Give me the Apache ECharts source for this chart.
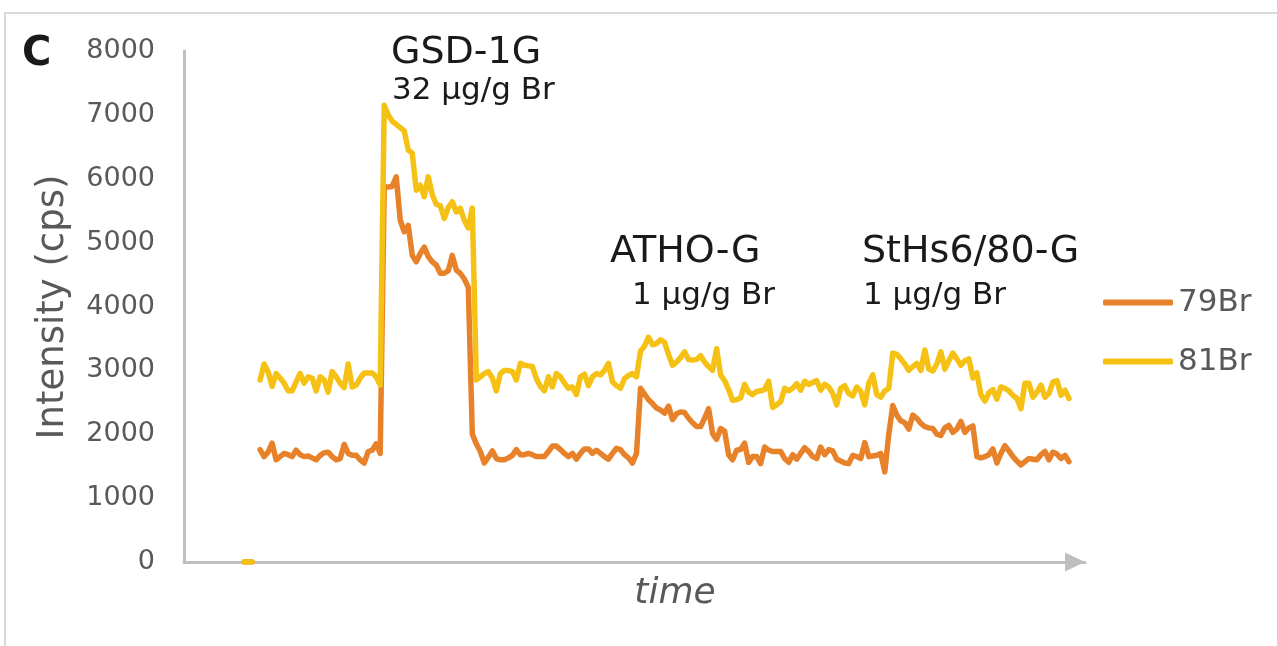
<!DOCTYPE html>
<html>
<head>
<meta charset="utf-8">
<script src="https://cdn.jsdelivr.net/npm/echarts@6/dist/echarts.min.js"></script>
<style>html,body{margin:0;padding:0;background:#fff;}#c{width:1277px;height:646px;}</style>
</head>
<body>
<div id="c"></div>
<script>
// time index categories (0..225)
const categories = [];
for (let i = 0; i <= 225; i++) categories.push(String(i));

const yTicks = [0, 1000, 2000, 3000, 4000, 5000, 6000, 7000, 8000];

const br79 = [
  null,null,null,null,null,null,null,null,null,null,null,null,null,null,null,
  0,0,0,null,
  1760,1650,1720,1860,1600,1650,1700,1680,1650,1750,
  1680,1650,1660,1630,1600,1670,1710,1720,1650,1600,
  1620,1840,1700,1670,1670,1600,1550,1730,1750,1850,
  1700,5870,5870,5880,6030,5350,5170,5270,4800,4700,
  4830,4930,4780,4700,4650,4520,4520,4560,4800,4570,
  4520,4430,4300,2000,1850,1730,1550,1640,1740,1620,
  1600,1600,1630,1670,1760,1680,1680,1700,1680,1650,
  1650,1650,1730,1815,1815,1760,1700,1650,1700,1610,
  1700,1770,1770,1700,1750,1700,1650,1610,1700,1780,
  1760,1680,1630,1550,1700,2720,2630,2540,2480,2410,
  2380,2330,2440,2230,2320,2350,2340,2250,2180,2120,
  2120,2250,2400,2010,1920,2090,2050,1680,1600,1750,
  1760,1860,1560,1650,1650,1540,1800,1750,1730,1730,
  1730,1620,1560,1680,1610,1700,1790,1730,1650,1620,
  1800,1680,1760,1740,1610,1580,1550,1540,1670,1650,
  1620,1870,1650,1660,1670,1700,1410,2000,2450,2300,
  2210,2180,2080,2300,2250,2170,2120,2100,2090,2000,
  1980,2100,2140,2030,2080,2200,2030,2100,2130,1650,
  1630,1650,1680,1770,1550,1700,1820,1740,1650,1580,
  1520,1570,1620,1610,1600,1680,1730,1600,1720,1690,
  1620,1670,1570,
  null,null,null,null
];

const br81 = [
  null,null,null,null,null,null,null,null,null,null,null,null,null,null,null,
  0,0,0,null,
  2850,3100,2980,2750,2950,2880,2800,2680,2680,2820,
  2950,2800,2900,2880,2680,2900,2850,2660,2980,2900,
  2800,2730,3100,2740,2770,2880,2960,2960,2960,2900,
  2770,7150,7000,6900,6850,6800,6750,6450,6400,5820,
  5900,5720,6030,5750,5600,5580,5380,5550,5640,5480,
  5540,5350,5230,5540,2850,2900,2950,2980,2880,2680,
  2950,3000,3000,2980,2850,3110,3080,3070,3060,2870,
  2750,2680,2900,2740,2950,2900,2800,2720,2740,2620,
  2900,2940,2760,2900,2950,2930,3000,3110,2820,2760,
  2720,2870,2920,2950,2900,3300,3380,3520,3400,3420,
  3480,3440,3250,3080,3130,3200,3290,3170,3160,3170,
  3230,3130,3060,3000,3340,2930,2840,2700,2530,2540,
  2570,2780,2660,2620,2670,2680,2700,2830,2420,2460,
  2510,2720,2680,2720,2790,2690,2830,2780,2810,2840,
  2690,2780,2740,2640,2460,2720,2760,2640,2600,2740,
  2670,2460,2800,2930,2620,2580,2680,2720,3270,3250,
  3180,3100,3000,3060,3110,3000,3320,3020,2990,3100,
  3290,3020,3150,3270,3180,3080,3150,3180,2880,2960,
  2620,2520,2650,2700,2550,2740,2720,2680,2610,2560,
  2400,2800,2800,2580,2660,2770,2580,2640,2820,2840,
  2610,2690,2560,
  null,null,null,null
];

const seriesNames = ['79Br', '81Br'];
const annotations = [
  {text: 'GSD-1G', x: 391, y: 53, size: 38},
  {text: '32 µg/g Br', x: 392, y: 91, size: 31},
  {text: 'ATHO-G', x: 610, y: 252, size: 38},
  {text: '1 µg/g Br', x: 632, y: 296, size: 31},
  {text: 'StHs6/80-G', x: 862, y: 252, size: 38},
  {text: '1 µg/g Br', x: 863, y: 296, size: 31}
];

const FONT = '"DejaVu Sans", Verdana, sans-serif';
const chart = echarts.init(document.getElementById('c'), null, {renderer: 'canvas'});

const graphics = [
  {type: 'rect', shape: {x: 5, y: 13, width: 1320, height: 700}, style: {fill: 'none', stroke: '#D9D9D9', lineWidth: 2}, silent: true},
  {type: 'text', x: 22, y: 55, style: {text: 'C', font: 'bold 40px ' + FONT, fill: '#1a1a1a', align: 'left', verticalAlign: 'middle'}},
  {type: 'text', x: 675, y: 594, style: {text: 'time', font: 'italic 36px ' + FONT, fill: '#595959', align: 'center', verticalAlign: 'middle'}},
  {type: 'text', x: 53, y: 307, rotation: Math.PI / 2, style: {text: 'Intensity (cps)', font: '37px ' + FONT, fill: '#595959', align: 'center', verticalAlign: 'middle'}}
];
annotations.forEach(a => graphics.push({
  type: 'text', x: a.x, y: a.y,
  style: {text: a.text, font: a.size + 'px ' + FONT, fill: '#1a1a1a', align: 'left', verticalAlign: 'middle'}
}));

chart.setOption({
  animation: false,
  backgroundColor: '#ffffff',
  textStyle: {fontFamily: FONT},
  grid: {left: 184, right: 192, top: 51, bottom: 84, containLabel: false},
  legend: {
    orient: 'vertical', left: 1103, top: 287, padding: 0,
    itemWidth: 70, itemHeight: 6, itemGap: 28, icon: 'roundRect',
    textStyle: {fontSize: 31, color: '#595959', fontFamily: FONT},
    data: seriesNames
  },
  xAxis: {
    type: 'category', data: categories, boundaryGap: false,
    axisLine: {show: true, symbol: ['none', 'triangle'], symbolSize: [19, 20], symbolOffset: [0, -10],
      lineStyle: {color: '#BFBFBF', width: 3}},
    axisTick: {show: false}, axisLabel: {show: false}, splitLine: {show: false}
  },
  yAxis: {
    type: 'value', min: yTicks[0], max: yTicks[yTicks.length - 1], interval: 1000,
    axisLine: {show: true, lineStyle: {color: '#BFBFBF', width: 3}},
    axisTick: {show: false}, splitLine: {show: false},
    axisLabel: {fontSize: 27, color: '#595959', margin: 29, fontFamily: FONT,
      formatter: v => String(v)}
  },
  series: [
    {name: seriesNames[0], type: 'line', data: br79, showSymbol: false, symbol: 'none',
      connectNulls: false, lineStyle: {color: '#E8822A', width: 5.5, cap: 'round', join: 'round'},
      itemStyle: {color: '#E8822A'}},
    {name: seriesNames[1], type: 'line', data: br81, showSymbol: false, symbol: 'none',
      connectNulls: false, lineStyle: {color: '#F6C115', width: 5.5, cap: 'round', join: 'round'},
      itemStyle: {color: '#F6C115'}}
  ],
  graphic: graphics
});
</script>
</body>
</html>
